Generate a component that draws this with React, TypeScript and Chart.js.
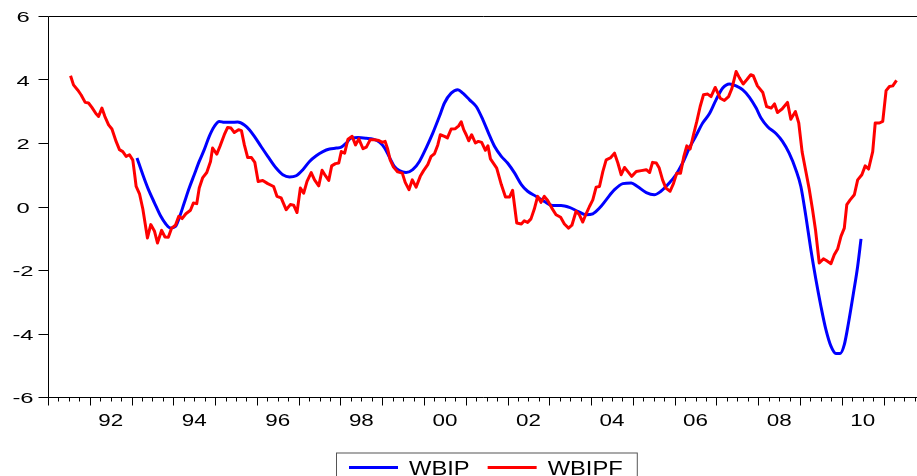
import { useEffect, useRef } from "react";
import { Chart, registerables } from "chart.js";

Chart.register(...registerables);

// ---- data ----
const seriesNames = ["WBIP", "WBIPF"];
const seriesColors = ["#0000FF", "#FF0000"];

const xLabelYears = [1992, 1994, 1996, 1998, 2000, 2002, 2004, 2006, 2008, 2010];
const xTickLabels = ["92", "94", "96", "98", "00", "02", "04", "06", "08", "10"];
const yTickValues = [-6, -4, -2, 0, 2, 4, 6];
const yTickLabels = ["-6", "-4", "-2", "0", "2", "4", "6"];

const wbipYears = [
  1993.13, 1993.27, 1993.39, 1993.55, 1993.7, 1993.82, 1993.93, 1994.05, 1994.14, 1994.26,
  1994.38, 1994.5, 1994.62, 1994.74, 1994.86, 1994.98, 1995.1, 1995.22, 1995.38, 1995.54,
  1995.7, 1995.82, 1995.94, 1996.1, 1996.26, 1996.46, 1996.62, 1996.78, 1996.94, 1997.1,
  1997.26, 1997.42, 1997.58, 1997.74, 1997.9, 1998.02, 1998.14, 1998.26, 1998.42, 1998.62,
  1998.78, 1998.94, 1999.06, 1999.18, 1999.29, 1999.41, 1999.57, 1999.73, 1999.89, 2000.05,
  2000.21, 2000.37, 2000.49, 2000.65, 2000.81, 2000.93, 2001.09, 2001.25, 2001.41, 2001.57,
  2001.69, 2001.85, 2002.0, 2002.17, 2002.33, 2002.48, 2002.68, 2002.88, 2003.08, 2003.28,
  2003.48, 2003.68, 2003.88, 2004.04, 2004.2, 2004.36, 2004.56, 2004.76, 2004.96, 2005.11,
  2005.32, 2005.51, 2005.67, 2005.87, 2006.03, 2006.19, 2006.35, 2006.51, 2006.67, 2006.83,
  2006.99, 2007.15, 2007.31, 2007.47, 2007.63, 2007.79, 2007.95, 2008.07, 2008.22, 2008.43,
  2008.58, 2008.74, 2008.9, 2009.02, 2009.14, 2009.26, 2009.38, 2009.5, 2009.62, 2009.74,
  2009.86, 2009.96, 2010.06, 2010.16, 2010.28, 2010.38, 2010.46,
];
const wbipValues = [
  1.53, 1.0, 0.58, 0.11, -0.31, -0.55, -0.68, -0.63, -0.36, 0.11,
  0.58, 1.0, 1.42, 1.79, 2.21, 2.52, 2.68, 2.65, 2.65, 2.66,
  2.57, 2.42, 2.21, 1.89, 1.58, 1.21, 1.0, 0.93, 0.97, 1.16,
  1.42, 1.6, 1.73, 1.81, 1.84, 1.87, 2.0, 2.16, 2.17, 2.15,
  2.12, 2.02, 1.84, 1.53, 1.26, 1.13, 1.07, 1.16, 1.42, 1.84,
  2.31, 2.84, 3.26, 3.57, 3.68, 3.57, 3.36, 3.15, 2.73, 2.23,
  1.89, 1.58, 1.37, 1.05, 0.69, 0.48, 0.32, 0.16, 0.03, 0.03,
  -0.03, -0.15, -0.26, -0.23, -0.05, 0.21, 0.53, 0.72, 0.74, 0.63,
  0.44, 0.37, 0.48, 0.74, 1.0, 1.37, 1.84, 2.23, 2.63, 2.92,
  3.36, 3.73, 3.86, 3.8, 3.67, 3.44, 3.1, 2.78, 2.52, 2.29,
  2.05, 1.68, 1.16, 0.63, -0.31, -1.36, -2.3, -3.14, -3.88, -4.4,
  -4.63, -4.63, -4.35, -3.67, -2.72, -1.88, -1.02,
];

const wbipfYears = [
  1991.54, 1991.61, 1991.71, 1991.79, 1991.89, 1991.97, 1992.05, 1992.15, 1992.21, 1992.29,
  1992.36, 1992.45, 1992.53, 1992.63, 1992.71, 1992.79, 1992.87, 1992.95, 1993.03, 1993.07,
  1993.11, 1993.19, 1993.27, 1993.38, 1993.46, 1993.55, 1993.62, 1993.72, 1993.8, 1993.88,
  1993.96, 1994.05, 1994.13, 1994.21, 1994.3, 1994.41, 1994.48, 1994.56, 1994.62, 1994.7,
  1994.8, 1994.89, 1994.94, 1995.04, 1995.12, 1995.22, 1995.3, 1995.38, 1995.46, 1995.56,
  1995.63, 1995.7, 1995.78, 1995.87, 1995.95, 1996.03, 1996.14, 1996.26, 1996.4, 1996.48,
  1996.58, 1996.7, 1996.8, 1996.88, 1996.96, 1997.04, 1997.12, 1997.2, 1997.3, 1997.38,
  1997.48, 1997.56, 1997.64, 1997.72, 1997.79, 1997.88, 1997.96, 1998.02, 1998.1, 1998.18,
  1998.28, 1998.36, 1998.44, 1998.54, 1998.62, 1998.71, 1998.82, 1998.92, 1999.0, 1999.07,
  1999.13, 1999.19, 1999.27, 1999.37, 1999.48, 1999.55, 1999.64, 1999.72, 1999.81, 1999.91,
  1999.99, 2000.09, 2000.17, 2000.25, 2000.33, 2000.39, 2000.49, 2000.56, 2000.65, 2000.75,
  2000.83, 2000.89, 2000.95, 2001.01, 2001.07, 2001.14, 2001.23, 2001.3, 2001.38, 2001.47,
  2001.53, 2001.59, 2001.74, 2001.85, 2001.95, 2002.05, 2002.12, 2002.22, 2002.33, 2002.4,
  2002.48, 2002.56, 2002.64, 2002.72, 2002.8, 2002.88, 2002.96, 2003.06, 2003.16, 2003.27,
  2003.36, 2003.46, 2003.54, 2003.64, 2003.72, 2003.8, 2003.88, 2003.96, 2004.04, 2004.12,
  2004.2, 2004.28, 2004.36, 2004.46, 2004.56, 2004.64, 2004.72, 2004.8, 2004.88, 2004.97,
  2005.08, 2005.2, 2005.32, 2005.4, 2005.47, 2005.56, 2005.63, 2005.71, 2005.79, 2005.89,
  2005.97, 2006.05, 2006.14, 2006.22, 2006.29, 2006.37, 2006.45, 2006.53, 2006.61, 2006.69,
  2006.79, 2006.87, 2006.97, 2007.09, 2007.19, 2007.29, 2007.37, 2007.47, 2007.55, 2007.64,
  2007.73, 2007.82, 2007.88, 2007.98, 2008.11, 2008.2, 2008.31, 2008.39, 2008.46, 2008.57,
  2008.7, 2008.78, 2008.89, 2008.97, 2009.05, 2009.14, 2009.22, 2009.3, 2009.37, 2009.46,
  2009.56, 2009.64, 2009.74, 2009.82, 2009.9, 2009.98, 2010.06, 2010.12, 2010.2, 2010.3,
  2010.38, 2010.48, 2010.56, 2010.64, 2010.74, 2010.8, 2010.9, 2010.98, 2011.06, 2011.14,
  2011.22, 2011.31,
];
const wbipfValues = [
  4.12, 3.83, 3.67, 3.52, 3.28, 3.26, 3.12, 2.92, 2.84, 3.1,
  2.84, 2.57, 2.44, 2.05, 1.79, 1.73, 1.58, 1.63, 1.46, 1.05,
  0.63, 0.4, -0.08, -0.99, -0.57, -0.78, -1.15, -0.75, -0.96, -0.97,
  -0.68, -0.59, -0.31, -0.38, -0.23, -0.12, 0.11, 0.09, 0.58, 0.9,
  1.07, 1.42, 1.84, 1.65, 1.91, 2.26, 2.49, 2.47, 2.33, 2.42,
  2.39, 1.94, 1.54, 1.54, 1.39, 0.79, 0.82, 0.72, 0.63, 0.32,
  0.27, -0.1, 0.06, 0.04, -0.19, 0.58, 0.42, 0.79, 1.07, 0.84,
  0.65, 1.14, 0.97, 0.82, 1.28, 1.35, 1.37, 1.73, 1.68, 2.12,
  2.21, 1.94, 2.13, 1.82, 1.87, 2.1, 2.1, 2.08, 2.02, 2.05,
  1.81, 1.47, 1.24, 1.09, 1.05, 0.76, 0.53, 0.84, 0.61, 0.95,
  1.13, 1.32, 1.58, 1.66, 1.94, 2.26, 2.21, 2.16, 2.44, 2.45,
  2.54, 2.67, 2.42, 2.26, 2.07, 2.26, 2.0, 2.05, 2.02, 1.77,
  1.91, 1.5, 1.21, 0.69, 0.3, 0.3, 0.51, -0.52, -0.55, -0.45,
  -0.5, -0.39, -0.08, 0.32, 0.13, 0.32, 0.19, -0.05, -0.26, -0.34,
  -0.55, -0.68, -0.59, -0.15, -0.26, -0.49, -0.23, 0.0, 0.21, 0.61,
  0.63, 1.1, 1.47, 1.53, 1.68, 1.37, 1.0, 1.23, 1.1, 0.95,
  1.1, 1.13, 1.16, 1.07, 1.39, 1.37, 1.21, 0.84, 0.58, 0.48,
  0.72, 1.05, 1.05, 1.58, 1.91, 1.81, 2.26, 2.68, 3.15, 3.52,
  3.54, 3.46, 3.75, 3.41, 3.34, 3.46, 3.72, 4.25, 4.05, 3.86,
  4.0, 4.15, 4.12, 3.8, 3.59, 3.15, 3.1, 3.23, 2.96, 3.07,
  3.28, 2.75, 2.99, 2.63, 1.72, 1.1, 0.55, -0.1, -0.73, -1.78,
  -1.65, -1.71, -1.8, -1.52, -1.34, -0.94, -0.68, 0.06, 0.21, 0.37,
  0.84, 1.0, 1.28, 1.18, 1.73, 2.63, 2.63, 2.68, 3.65, 3.78,
  3.8, 3.97,
];

const FONT = "'Liberation Sans', Arial, sans-serif";

function stretchedText(ctx: CanvasRenderingContext2D, text: string, x: number, y: number, sx: number, align: CanvasTextAlign) {
  ctx.save();
  ctx.translate(x, y);
  ctx.scale(sx, 1);
  ctx.textAlign = align;
  ctx.textBaseline = "alphabetic";
  ctx.fillText(text, 0, 0);
  ctx.restore();
}

const evAxesPlugin = {
  id: "evAxes",
  afterDraw(chart: any) {
    const { ctx, chartArea: ca, scales } = chart;
    const xs = scales.x;
    const ys = scales.y;
    const L = Math.round(ca.left) + 0.5;
    const T = Math.round(ca.top) + 0.5;
    const B = Math.round(ca.bottom) + 0.5;
    ctx.save();
    ctx.strokeStyle = "#000";
    ctx.lineWidth = 1;
    ctx.beginPath();
    ctx.moveTo(ca.right + 2, T);
    ctx.lineTo(L, T);
    ctx.lineTo(L, B);
    ctx.lineTo(ca.right + 2, B);
    for (const v of yTickValues) {
      const py = Math.round(ys.getPixelForValue(v)) + 0.5;
      ctx.moveTo(L - 10, py);
      ctx.lineTo(L, py);
    }
    const qStart = Math.ceil(xs.min * 4);
    const qEnd = Math.floor(xs.max * 4);
    for (let q = qStart; q <= qEnd; q++) {
      const px = Math.round(xs.getPixelForValue(q / 4)) + 0.5;
      const len = q % 4 === 0 ? 8 : 4;
      ctx.moveTo(px, B);
      ctx.lineTo(px, B + len);
    }
    ctx.stroke();

    ctx.fillStyle = "#000";
    ctx.font = "16px " + FONT;
    xLabelYears.forEach((yr, i) => {
      const px = xs.getPixelForValue(yr + 0.5);
      stretchedText(ctx, xTickLabels[i], px, B + 28, 1.4, "center");
    });
    ctx.font = "14px " + FONT;
    yTickValues.forEach((v, i) => {
      const py = ys.getPixelForValue(v);
      stretchedText(ctx, yTickLabels[i], 23, py + 6, 1.7, "center");
    });

    // legend
    const legTop = B + 55;
    const legLeft = 336;
    ctx.font = "21px " + FONT;
    const sx = 1.13;
    let x = legLeft + 13;
    const lineY = legTop + 15;
    chart.data.datasets.forEach((ds: any, i: number) => {
      ctx.fillStyle = ds.borderColor;
      ctx.fillRect(x, lineY - 1.5, 49, 3);
      x += 49 + 11;
      ctx.fillStyle = "#000";
      stretchedText(ctx, ds.label, x, legTop + 22, sx, "left");
      x += ctx.measureText(ds.label).width * sx;
      if (i < chart.data.datasets.length - 1) x += 18;
    });
    x += 14;
    ctx.strokeStyle = "#555";
    ctx.lineWidth = 1;
    ctx.strokeRect(legLeft + 0.5, legTop + 0.5, x - legLeft, 40);
    ctx.restore();
  },
};

export default function App() {
  const canvasRef = useRef<HTMLCanvasElement | null>(null);

  useEffect(() => {
    if (!canvasRef.current) return;
    const chart = new Chart(canvasRef.current, {
      type: "line",
      data: {
        datasets: [
          {
            label: seriesNames[0],
            data: wbipYears.map((x, i) => ({ x, y: wbipValues[i] })),
            borderColor: seriesColors[0],
            backgroundColor: seriesColors[0],
            borderWidth: 3,
            pointRadius: 0,
            cubicInterpolationMode: "monotone",
            order: 1,
          },
          {
            label: seriesNames[1],
            data: wbipfYears.map((x, i) => ({ x, y: wbipfValues[i] })),
            borderColor: seriesColors[1],
            backgroundColor: seriesColors[1],
            borderWidth: 3,
            pointRadius: 0,
            tension: 0,
            borderJoinStyle: "round",
            order: 0,
          },
        ],
      },
      options: {
        animation: false,
        responsive: true,
        maintainAspectRatio: false,
        layout: { padding: { top: 16, left: 0, right: 0, bottom: 0 } },
        plugins: {
          legend: { display: false },
          tooltip: { enabled: false },
        },
        events: [],
        scales: {
          x: {
            type: "linear",
            min: 1991,
            max: 2011.8,
            grid: { display: false },
            border: { display: false },
            ticks: { display: false },
            afterFit: (scale: any) => {
              scale.height = 79;
            },
          },
          y: {
            type: "linear",
            min: -6,
            max: 6,
            grid: { display: false },
            border: { display: false },
            ticks: { display: false },
            afterFit: (scale: any) => {
              scale.width = 48;
            },
          },
        },
      },
      plugins: [evAxesPlugin],
    });
    return () => chart.destroy();
  }, []);

  return (
    <div style={{ position: "fixed", left: 0, top: 0, width: 917, height: 476, background: "#fff" }}>
      <canvas ref={canvasRef} />
    </div>
  );
}
